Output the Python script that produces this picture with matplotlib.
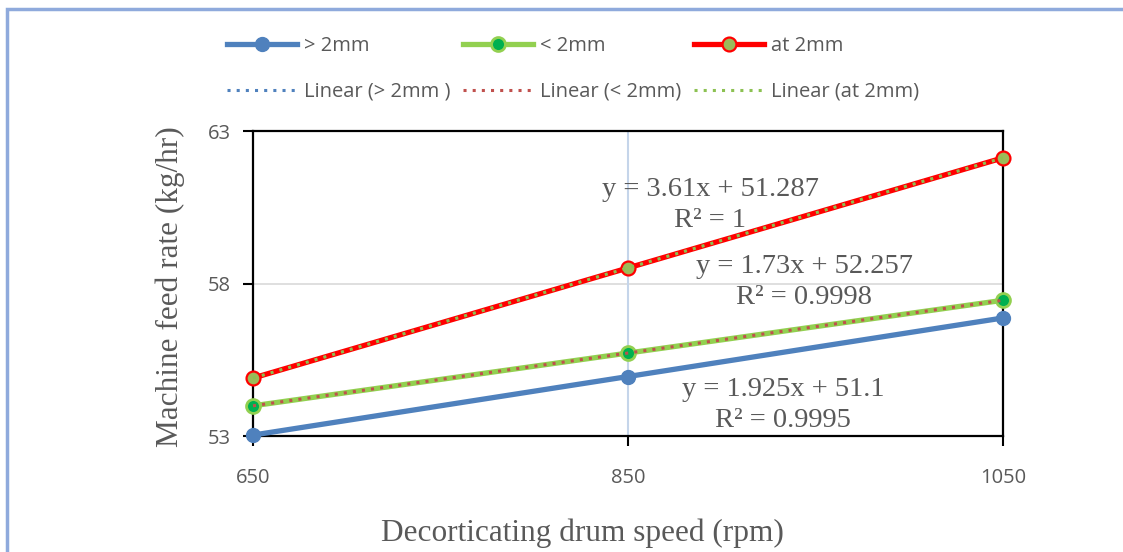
import numpy as np
import matplotlib.pyplot as plt
from matplotlib.patches import Rectangle

# data
speed = [650, 850, 1050]
above_2mm = [53.03, 54.95, 56.87]
below_2mm = [53.99, 55.72, 57.45]
at_2mm = [54.90, 58.51, 62.12]

eq_labels = [("y = 3.61x + 51.287\nR² = 1", 710, 205),
             ("y = 1.73x + 52.257\nR² = 0.9998", 804, 282),
             ("y = 1.925x + 51.1\nR² = 0.9995", 783, 405)]

grey = '#595959'
c_blue = '#4F81BD'
c_green = '#92D050'
c_red = '#FF0000'

fig = plt.figure(figsize=(11.23, 5.52), dpi=100)
W, H = 1123, 552

# outer chart border (runs off the right and bottom edges)
fig.patches.append(Rectangle((6.5 / W, -0.05), 1.2, 1 - 8.5 / H + 0.05,
                             transform=fig.transFigure, fill=False,
                             edgecolor='#8FAADC', lw=2.5))

ax = fig.add_axes([253 / W, 1 - 436 / H, 750 / W, 305 / H])

xs = np.arange(1, len(speed) + 1)

ax.axhline(58, color='#D9D9D9', lw=1.2, zorder=0)
ax.axvline(2, color='#C5D5EA', lw=1.5, zorder=0)

l1, = ax.plot(xs, above_2mm, '-o', color=c_blue, lw=3.8, ms=10,
              mfc=c_blue, mec=c_blue, clip_on=False, zorder=3)
l2, = ax.plot(xs, below_2mm, '-o', color=c_green, lw=3.8, ms=10,
              mfc='#00B050', mec=c_green, mew=2, clip_on=False, zorder=3)
l3, = ax.plot(xs, at_2mm, '-o', color=c_red, lw=3.8, ms=10,
              mfc='#9BBB59', mec=c_red, mew=1.6, clip_on=False, zorder=3)

# linear trendlines fitted on category index
fits = []
for vals, col in [(above_2mm, c_blue), (below_2mm, '#C0504D'), (at_2mm, '#8CC152')]:
    k, b = np.polyfit(xs, vals, 1)
    t, = ax.plot(xs, k * xs + b, linestyle=(0, (1, 2)), color=col, lw=2.2,
                 zorder=4, clip_on=False)
    fits.append(t)

ax.set_xlim(1, 3)
ax.set_ylim(53, 63)
ax.set_xticks(xs)
ax.set_xticklabels([str(s) for s in speed])
ax.set_yticks([53, 58, 63])

for txt, px, py in eq_labels:
    fig.text(px / W, 1 - py / H, txt, ha='center', va='center',
             family='Liberation Serif', fontsize=20.5, color=grey,
             linespacing=1.3, zorder=5)

for s in ax.spines.values():
    s.set_linewidth(1.6)
    s.set_color('black')
ax.tick_params(axis='both', direction='out', length=7, width=1.5,
               labelsize=14.5, labelcolor=grey)
ax.tick_params(axis='y', pad=9)
ax.tick_params(axis='x', pad=16)
for lab in ax.get_xticklabels() + ax.get_yticklabels():
    lab.set_family('Open Sans')

fig.text(582 / W, 1 - 533 / H, 'Decorticating drum speed (rpm)', ha='center',
         va='center', family='Liberation Serif', fontsize=22.5, color=grey)
fig.text(170 / W, 1 - 287 / H, 'Machine feed rate (kg/hr)', ha='center',
         va='center', rotation=90, family='Liberation Serif', fontsize=22.5, color=grey)

handles = [l1, fits[0], l2, fits[1], l3, fits[2]]
labels = ['> 2mm', 'Linear (> 2mm )', '< 2mm', 'Linear (< 2mm)',
          'at 2mm', 'Linear (at 2mm)']
leg = fig.legend(handles, labels, ncol=3, loc='center',
                 bbox_to_anchor=(573 / W, 1 - 69 / H), frameon=False,
                 handlelength=3.5, handletextpad=0.35, columnspacing=0.6,
                 labelspacing=1.25, prop={'family': 'Open Sans', 'size': 14.5})
for t in leg.get_texts():
    t.set_color(grey)

fig.savefig('out.png', dpi=100)
